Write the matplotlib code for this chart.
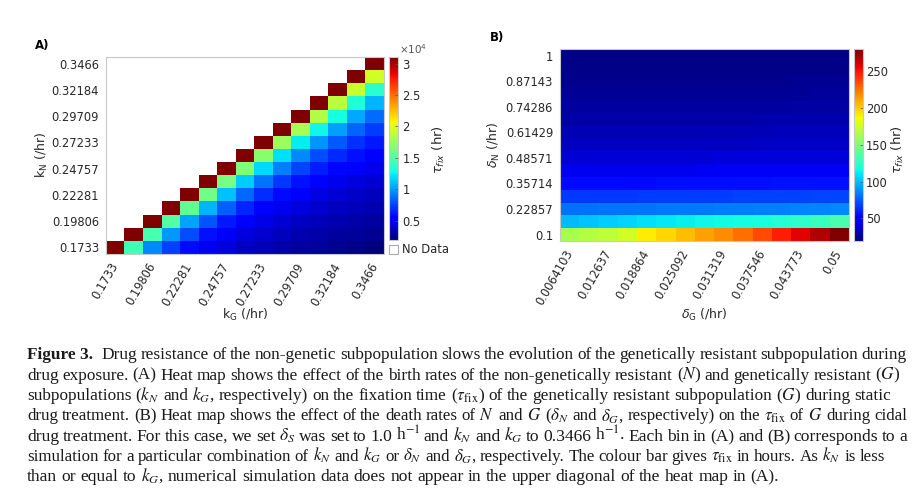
import numpy as np
import matplotlib
matplotlib.use('Agg')
import matplotlib.pyplot as plt
from matplotlib.patches import Rectangle

# ---------------- Panel A data (tau_fix, units of 1e4 hr) ----------------
kG_labels = ['0.1733', '0.19806', '0.22281', '0.24757', '0.27233', '0.29709', '0.32184', '0.3466']
kN_labels = ['0.1733', '0.19806', '0.22281', '0.24757', '0.27233', '0.29709', '0.32184', '0.3466']
n_A = 15
# each row: kN index r, values for kG index r..14
tauA_r00 = [3.1, 1.44, 0.95, 0.74, 0.58, 0.48, 0.42, 0.37, 0.33, 0.30, 0.28, 0.26, 0.24, 0.22, 0.20]
tauA_r01 = [3.1, 1.46, 0.99, 0.77, 0.61, 0.50, 0.44, 0.39, 0.35, 0.32, 0.30, 0.28, 0.26, 0.24]
tauA_r02 = [3.1, 1.50, 1.03, 0.80, 0.63, 0.53, 0.46, 0.41, 0.37, 0.34, 0.32, 0.30, 0.28]
tauA_r03 = [3.1, 1.55, 1.07, 0.83, 0.66, 0.55, 0.48, 0.43, 0.39, 0.36, 0.34, 0.32]
tauA_r04 = [3.1, 1.60, 1.10, 0.86, 0.69, 0.58, 0.51, 0.45, 0.41, 0.38, 0.36]
tauA_r05 = [3.1, 1.63, 1.14, 0.89, 0.72, 0.61, 0.54, 0.48, 0.44, 0.41]
tauA_r06 = [3.1, 1.66, 1.17, 0.92, 0.75, 0.64, 0.57, 0.51, 0.47]
tauA_r07 = [3.1, 1.70, 1.20, 0.95, 0.78, 0.67, 0.60, 0.54]
tauA_r08 = [3.1, 1.75, 1.23, 0.98, 0.81, 0.70, 0.63]
tauA_r09 = [3.1, 1.79, 1.26, 1.01, 0.84, 0.73]
tauA_r10 = [3.1, 1.83, 1.29, 1.04, 0.87]
tauA_r11 = [3.1, 1.87, 1.32, 1.07]
tauA_r12 = [3.1, 1.91, 1.36]
tauA_r13 = [3.1, 1.95]
tauA_r14 = [3.1]
tauA_rows = [tauA_r00, tauA_r01, tauA_r02, tauA_r03, tauA_r04, tauA_r05, tauA_r06, tauA_r07,
             tauA_r08, tauA_r09, tauA_r10, tauA_r11, tauA_r12, tauA_r13, tauA_r14]
cbarA_ticks = [0.5, 1, 1.5, 2, 2.5, 3]
cbarA_ticklabels = ['0.5', '1', '1.5', '2', '2.5', '3']

# ---------------- Panel B data (tau_fix, hr) ----------------
dG_labels = ['0.0064103', '0.012637', '0.018864', '0.025092', '0.031319', '0.037546', '0.043773', '0.05']
dN_labels = ['0.1', '0.22857', '0.35714', '0.48571', '0.61429', '0.74286', '0.87143', '1']
tauB_r00 = [163, 167, 170, 178, 191, 197, 204, 212, 217, 225, 236, 248, 257, 268, 280]
tauB_r01 = [100, 102, 104, 106, 109, 111, 113, 115, 116, 117, 118, 121, 125, 129, 134]
tauB_r02 = [81, 81, 82, 82, 82, 83, 83, 83, 84, 84, 85, 85, 86, 86, 87]
tauB_r03 = [66, 66, 66, 66, 67, 67, 67, 67, 67, 68, 68, 68, 68, 69, 69]
tauB_r04 = [54, 54, 54, 54, 54, 55, 55, 55, 55, 55, 55, 56, 56, 56, 56]
tauB_r05 = [45, 45, 45, 45, 45, 45, 45, 46, 46, 46, 46, 46, 46, 46, 46]
tauB_r06 = [39, 39, 39, 39, 39, 39, 39, 39, 40, 40, 40, 40, 40, 40, 40]
tauB_r07 = [35, 35, 35, 35, 35, 35, 35, 35, 35, 35, 36, 36, 36, 36, 36]
tauB_r08 = [32, 32, 32, 32, 32, 32, 32, 32, 32, 32, 32, 33, 33, 33, 33]
tauB_r09 = [29, 29, 29, 29, 29, 29, 29, 29, 29, 29, 30, 30, 30, 30, 30]
tauB_r10 = [27, 27, 27, 27, 27, 27, 27, 27, 27, 27, 27, 27, 28, 28, 28]
tauB_r11 = [25, 25, 25, 25, 25, 25, 25, 25, 25, 25, 25, 25, 25, 26, 26]
tauB_r12 = [23, 23, 23, 23, 23, 23, 23, 23, 23, 23, 23, 23, 24, 24, 24]
tauB_r13 = [22, 22, 22, 22, 22, 22, 22, 22, 22, 22, 22, 22, 22, 22, 22]
tauB_r14 = [21, 21, 21, 21, 21, 21, 21, 21, 21, 21, 21, 21, 21, 21, 21]
tauB_rows = [tauB_r00, tauB_r01, tauB_r02, tauB_r03, tauB_r04, tauB_r05, tauB_r06, tauB_r07,
             tauB_r08, tauB_r09, tauB_r10, tauB_r11, tauB_r12, tauB_r13, tauB_r14]
cbarB_ticks = [50, 100, 150, 200, 250]

caption_lines = [
    [("Figure 3.", True), ("Drug resistance of the non-genetic subpopulation slows the evolution of the genetically resistant subpopulation during", False)],
    [("drug exposure. (A) Heat map shows the effect of the birth rates of the non-genetically resistant ($N$) and genetically resistant ($G$)", False)],
    [(r"subpopulations ($k_N$ and $k_G$, respectively) on the fixation time ($\tau_\mathrm{fix}$) of the genetically resistant subpopulation ($G$) during static", False)],
    [(r"drug treatment. (B) Heat map shows the effect of the death rates of $N$ and $G$ ($\delta_N$ and $\delta_G$, respectively) on the $\tau_\mathrm{fix}$ of $G$ during cidal", False)],
    [(r"drug treatment. For this case, we set $\delta_S$ was set to 1.0 h$^{-1}$ and $k_N$ and $k_G$ to 0.3466 h$^{-1}$. Each bin in (A) and (B) corresponds to a", False)],
    [(r"simulation for a particular combination of $k_N$ and $k_G$ or $\delta_N$ and $\delta_G$, respectively. The colour bar gives $\tau_\mathrm{fix}$ in hours. As $k_N$ is less", False)],
    [(r"than or equal to $k_G$, numerical simulation data does not appear in the upper diagonal of the heat map in (A).", False)],
]

# ---------------- figure ----------------
W, H = 919, 488
fig = plt.figure(figsize=(W / 100, H / 100), dpi=100)
def fx(x): return x / W
def fy(y): return 1 - y / H

TXT = '#262626'
EDGE = '#c8c8c8'
TICKFS = 8.3

cmap = plt.get_cmap('jet').copy()
cmap.set_bad('white')

# Panel A
gridA = np.full((n_A, n_A), np.nan)
for r, row in enumerate(tauA_rows):
    gridA[r, r:r + len(row)] = row
gridA = np.ma.masked_invalid(gridA)

axA = fig.add_axes([fx(106), fy(254), (384 - 106) / W, (254 - 57) / H])
imA = axA.imshow(gridA, cmap=cmap, vmin=0.19, vmax=3.1, origin='lower', aspect='auto',
                 interpolation='nearest')
axA.set_xticks(range(0, n_A, 2))
axA.set_xticklabels(kG_labels, rotation=60, ha='right', va='center', rotation_mode='anchor')
axA.set_yticks(range(0, n_A, 2))
axA.set_yticklabels(kN_labels)
axA.tick_params(length=0, pad=5, labelsize=TICKFS, labelcolor=TXT)
axA.tick_params(axis='x', pad=7)
for s in axA.spines.values():
    s.set_color(EDGE); s.set_linewidth(0.8)

caxA = fig.add_axes([fx(389.3), fy(240), 9 / W, (240 - 57.3) / H])
cbA = fig.colorbar(imA, cax=caxA)
cbA.set_ticks(cbarA_ticks)
cbA.set_ticklabels(cbarA_ticklabels)
cbA.outline.set_edgecolor(EDGE)
caxA.tick_params(direction='in', length=2, width=0.5, color='#555555', labelsize=TICKFS,
                 labelcolor=TXT, pad=3)
fig.text(fx(399), fy(53.5), r'$\times$10$^{4}$', fontsize=7.5, color='#555555', ha='left',
         va='baseline', math_fontfamily='dejavusans')
fig.text(fx(439), fy(150), r'$\tau_{fix}$ (hr)', rotation=90, ha='center', va='center',
         fontsize=9.5, color=TXT, math_fontfamily='dejavusans')
fig.add_artist(Rectangle((fx(389.3), fy(254)), 8.5 / W, 8.5 / H, transform=fig.transFigure,
                         facecolor='white', edgecolor='#aaaaaa', lw=0.8))
fig.text(fx(402), fy(249.5), 'No Data', ha='left', va='center', fontsize=TICKFS, color=TXT)
fig.text(fx(245), fy(315), r'k$_\mathrm{G}$ (/hr)', ha='center', va='center', fontsize=9,
         color=TXT, math_fontfamily='dejavusans')
fig.text(fx(42), fy(155), r'k$_\mathrm{N}$ (/hr)', ha='center', va='center', rotation=90,
         fontsize=9, color=TXT, math_fontfamily='dejavusans')
fig.text(fx(35), fy(45), 'A)', ha='left', va='center', fontsize=8.5, fontweight='bold')

# Panel B
gridB = np.array(tauB_rows, dtype=float)
axB = fig.add_axes([fx(560), fy(241), (849 - 560) / W, (241 - 49.3) / H])
imB = axB.imshow(gridB, cmap=cmap, vmin=19, vmax=280, origin='lower', aspect='auto',
                 interpolation='nearest')
axB.set_xticks(range(0, 15, 2))
axB.set_xticklabels(dG_labels, rotation=60, ha='right', va='center', rotation_mode='anchor')
axB.set_yticks(range(0, 15, 2))
axB.set_yticklabels(dN_labels)
axB.tick_params(length=0, pad=5, labelsize=TICKFS, labelcolor=TXT)
axB.tick_params(axis='x', pad=7)
for s in axB.spines.values():
    s.set_color(EDGE); s.set_linewidth(0.8)

caxB = fig.add_axes([fx(853.5), fy(241), 9.5 / W, (241 - 49.3) / H])
cbB = fig.colorbar(imB, cax=caxB)
cbB.set_ticks(cbarB_ticks)
cbB.outline.set_edgecolor(EDGE)
caxB.tick_params(direction='in', length=2, width=0.5, color='#555555', labelsize=TICKFS,
                 labelcolor=TXT, pad=2)
fig.text(fx(898), fy(150), r'$\tau_{fix}$ (hr)', rotation=90, ha='center', va='center',
         fontsize=9.5, color=TXT, math_fontfamily='dejavusans')
fig.text(fx(704), fy(315), r'$\delta_\mathrm{G}$ (/hr)', ha='center', va='center', fontsize=9,
         color=TXT, math_fontfamily='dejavusans')
fig.text(fx(494), fy(145), r'$\delta_\mathrm{N}$ (/hr)', ha='center', va='center', rotation=90,
         fontsize=9, color=TXT, math_fontfamily='dejavusans')
fig.text(fx(490), fy(37), 'B)', ha='left', va='center', fontsize=8.5, fontweight='bold')

# Caption (justified lines)
renderer = fig.canvas.get_renderer()
CAP_FS = 12.6
x_left = 27
line_right = [907, 900, 891, 907, 907, 885, None]
baselines = [359, 379.5, 400, 420.5, 441, 461, 481]
for li, (segments, yb) in enumerate(zip(caption_lines, baselines)):
    toks = []
    for seg, bold in segments:
        if bold:
            toks.append((seg, True))
        else:
            toks.extend((w, False) for w in seg.split(' '))
    extra = 5 if segments[0][1] else 0
    x_right = line_right[li]
    fs = CAP_FS
    while True:
        objs, widths = [], []
        for tok, bold in toks:
            t = fig.text(0, fy(yb), tok, fontsize=fs, family='Liberation Serif',
                         fontweight='bold' if bold else 'normal', math_fontfamily='stix',
                         ha='left', va='baseline', color='#1a1a1a')
            objs.append(t)
            widths.append(t.get_window_extent(renderer).width)
        min_gap = fs * 100 / 72 * 0.2
        if x_right is not None:
            gap = (x_right - x_left - sum(widths) - extra) / (len(toks) - 1)
        else:
            gap = fs * 100 / 72 * 0.25
        if gap >= min_gap or fs < 9:
            break
        for t in objs:
            t.remove()
        fs -= 0.2
    x = x_left
    for i, (t, w) in enumerate(zip(objs, widths)):
        t.set_x(fx(x))
        x += w + gap + (extra if i == 0 else 0)

fig.savefig('out.png', dpi=100)
